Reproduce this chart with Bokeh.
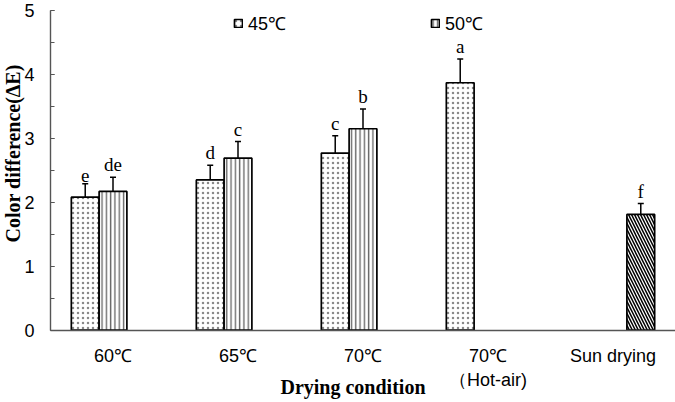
import math
from bokeh.plotting import figure
from bokeh.models import (ColumnDataSource, Range1d, FixedTicker, SingleIntervalTicker, LinearAxis,
                          Whisker, TeeHead, Label, Legend, LegendItem)
from bokeh.core.properties import value
from bokeh.embed import file_html
from bokeh.resources import INLINE

# ---- data ----
categories = ["60℃", "65℃", "70℃", "70℃\n（Hot-air)", "Sun drying"]
series_names = ["45℃", "50℃"]

val_45 = [2.08, 2.35, 2.77, 3.87]
err_45 = [0.21, 0.23, 0.27, 0.37]
sig_45 = ["e", "d", "c", "a"]

val_50 = [2.17, 2.69, 3.15]
err_50 = [0.22, 0.26, 0.31]
sig_50 = ["de", "c", "b"]

val_sun = [1.81]
err_sun = [0.17]
sig_sun = ["f"]

y_min, y_max = 0, 5

# ---- layout ----
W, H = 675, 402
bw = 1 / 4.5  # bar width in category units
ncat = len(categories)

p = figure(width=W, height=H, output_backend="svg", toolbar_location=None,
           x_axis_type=None, y_axis_type=None,
           x_range=Range1d(-0.4, ncat), y_range=Range1d(-1.131, 5.156),
           min_border=0)
p.outline_line_color = None
p.background_fill_color = "white"
p.border_fill_color = "white"

centers = [i + 0.5 for i in range(ncat)]

def mk(xs, vals, errs, sig):
    return ColumnDataSource(dict(x=xs, top=vals, up=[v + e for v, e in zip(vals, errs)], sig=sig))

src45 = mk([centers[i] - bw for i in range(len(val_45))], val_45, err_45, sig_45)
src50 = mk([centers[i] for i in range(len(val_50))], val_50, err_50, sig_50)
srcsun = mk([centers[4] + bw], val_sun, err_sun, sig_sun)

common = dict(width=bw, bottom=0, fill_color="white", line_color="black", line_width=1.7)
r45 = p.vbar(x="x", top="top", source=src45, hatch_pattern=".", hatch_color="#8a8a8a",
             hatch_scale=5, hatch_weight=0.4, **common)
r50 = p.vbar(x="x", top="top", source=src50, hatch_pattern="|", hatch_color="#6a6a6a",
             hatch_scale=4.3, hatch_weight=1.4, **common)
rsun = p.vbar(x="x", top="top", source=srcsun, hatch_pattern="\\", hatch_color="black",
              hatch_scale=6, hatch_weight=1.5, **common)

for s in (src45, src50, srcsun):
    w = Whisker(base="x", lower="top", upper="up", source=s, line_color="black", line_width=1.5,
                upper_head=TeeHead(size=6, line_color="black", line_width=1.5), lower_head=None)
    p.add_layout(w)
    p.text(x="x", y="up", text="sig", source=s, text_align="center", text_baseline="bottom",
           y_offset=-2, text_font=value("Liberation Serif"), text_font_size="19px", text_color="black")

# ---- axes ----
ax_col = "#555555"
yax = LinearAxis(fixed_location=0, ticker=SingleIntervalTicker(interval=1, num_minor_ticks=2),
                 bounds=(y_min, y_max))
yax.axis_line_color = ax_col
yax.axis_line_width = 1.4
yax.major_tick_line_color = ax_col
yax.minor_tick_line_color = ax_col
yax.major_tick_in = 4
yax.major_tick_out = 0
yax.minor_tick_in = 4
yax.minor_tick_out = 0
yax.major_label_standoff = 16
yax.major_label_text_font = "Liberation Sans"
yax.major_label_text_font_size = "18px"
yax.major_label_text_color = "black"
p.add_layout(yax, "left")

xax = LinearAxis(fixed_location=0, ticker=FixedTicker(ticks=centers), bounds=(0, ncat))
xax.major_label_overrides = {c: lab for c, lab in zip(centers, categories)}
xax.axis_line_color = ax_col
xax.axis_line_width = 1.4
xax.major_tick_line_color = None
xax.minor_tick_line_color = None
xax.major_tick_out = 0
xax.major_tick_in = 0
xax.major_label_standoff = 16
xax.major_label_text_font = "Liberation Sans"
xax.major_label_text_font_size = "18px"
xax.major_label_text_color = "black"
p.add_layout(xax, "below")

# ---- titles ----
p.add_layout(Label(x=2.42, y=-0.89, text="Drying condition", text_align="center",
                   text_baseline="middle", text_font="Liberation Serif", text_font_style="bold",
                   text_font_size="20px", text_color="black"))
p.add_layout(Label(x=0, y=2.765, x_offset=-38, text="Color difference(ΔE)", angle=math.pi / 2,
                   text_align="center", text_baseline="middle", text_font="Liberation Serif",
                   text_font_style="bold", text_font_size="20px", text_color="black"))

# ---- legends ----
for rend, name, loc in ((r45, series_names[0], (233, 367)), (r50, series_names[1], (430, 367))):
    lg = Legend(items=[LegendItem(label=name, renderers=[rend])], location=loc,
                padding=0, margin=0, spacing=0, glyph_width=10, glyph_height=10,
                label_standoff=5, label_text_font="Liberation Sans", label_text_font_size="18px",
                label_text_color="black", border_line_color=None, background_fill_alpha=0)
    p.add_layout(lg)

open("out.html", "w").write(file_html(p, INLINE))
